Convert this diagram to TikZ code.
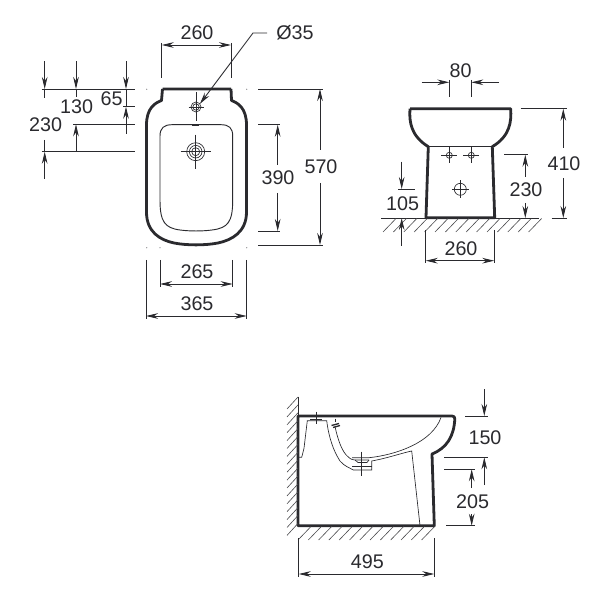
\documentclass[tikz,border=0pt]{standalone}
\usepackage{fontspec}
\setmainfont{Liberation Sans}
\usetikzlibrary{arrows.meta}
\definecolor{ink}{HTML}{2A2A2E}
\tikzset{
 x=0.75pt,y=-0.75pt,
 every path/.style={color=ink,line width=0.65pt},
 thick outline/.style={line width=2.1pt,line join=round},
 mid outline/.style={line width=0.7pt},
 dimarrow/.style={-{Stealth[length=9pt,width=4.2pt]}},
 dimboth/.style={{Stealth[length=9pt,width=4.2pt]}-{Stealth[length=9pt,width=4.2pt]}},
 dimtext/.style={font=\fontsize{14.8pt}{16pt}\selectfont,text=ink,inner sep=1pt},
 hatchline/.style={line width=0.45pt,color=ink!85},
 fine/.style={line width=0.5pt},
}
\newcommand{\crosshole}[5]{%
 \draw[fine] (#1-#4,#2)--(#1+#4,#2) (#1,#2-#5)--(#1,#2+#5);
 \draw[fine] (#1,#2) circle[radius=#3];
}
\begin{document}
\begin{tikzpicture}
\path[use as bounding box] (0,0) rectangle (601,592);
% ---- top view
\draw[thick outline] (162.5,89) -- (231,89) (231,89) -- (231.5,100.5) .. controls (238,103) and (246.5,108) .. (246.5,125)
 -- (246.5,212) .. controls (246.5,232) and (232,240) .. (218,243) .. controls (205,245.5) and (187,245.5) .. (174,243)
 .. controls (160,240) and (146.5,232) .. (146.5,212) -- (146.5,125) .. controls (146.5,108) and (155,103) .. (161.5,100.5) -- (162.5,89);
\draw[mid outline] (172,124.7) -- (221,124.7) .. controls (229,124.7) and (232.7,128) .. (232.7,136) -- (232.7,200)
 .. controls (232.7,222) and (228,228) .. (212,230) .. controls (202,231.3) and (190,231.3) .. (180,230)
 .. controls (165,228) and (160,222) .. (160,200) -- (160,136) .. controls (160,128) and (164,124.7) .. (172,124.7);
\draw[line width=1.4pt] (192,124.9) -- (199,124.9);
\crosshole{196}{107}{5}{7.5}{14.5}
\draw[fine] (196,107) circle[radius=3.2];
\crosshole{195.7}{151.7}{9}{15}{17}
\draw[fine] (195.7,151.7) circle[radius=6.3] (195.7,151.7) circle[radius=4];
\foreach \p in {(146.7,89.3),(246.7,89.3),(146.7,247.7),(160,247.7),(246.7,247.7)} {\fill[ink!60] \p circle[radius=0.6];}
% dimensions top view
\coordinate (d260a) at (161.7,45); \coordinate (d260b) at (231,45);
\draw (161.7,43) -- (161.7,78) (231,43) -- (231,78);
\draw[dimboth] (d260a) -- (d260b);
\node[dimtext] (t260) at (197,33) {260};
\node[dimtext] (tphi) at (295,33) {Ø35};
\coordinate (holeTip) at (199.8,104);
\coordinate (bend) at (253,33);
\coordinate (leadEnd) at (267,33);
\draw[-{Stealth[length=9pt,width=4.2pt]}] (leadEnd) -- (bend) -- (holeTip);
% left stack
\draw (41.7,89) -- (135,89) (41.7,151.7) -- (135,151.7) (73,124.3) -- (135,124.3) (123,106.7) -- (135,106.7);
\draw[dimarrow] (44.7,61.5) -- (44.7,89);
\draw[dimarrow] (76,61.5) -- (76,89);
\draw[dimarrow] (126,61.5) -- (126,89);
\draw[dimarrow] (126,134) -- (126,106.7);
\draw[dimarrow] (76,151.7) -- (76,124.3);
\draw[dimarrow] (44.7,179) -- (44.7,151.7);
\draw (44.7,89) -- (44.7,98) (44.7,140) -- (44.7,151.7) (76,89) -- (76,97) (126,89) -- (126,106.7);
\node[dimtext] (t65) at (111.7,98.3) {65};
\node[dimtext] (t130) at (76.7,106.7) {130};
\node[dimtext] (t230) at (45.7,125) {230};
% right stack
\draw (258,89) -- (323,89) (258,245) -- (323,245) (258,124.7) -- (280,124.7) (258,231) -- (280,231);
\draw[dimarrow] (320,150) -- (320,89);
\draw[dimarrow] (320,183) -- (320,245);
\draw[dimarrow] (277.7,165) -- (277.7,124.7);
\draw[dimarrow] (277.7,193) -- (277.7,231);
\node[dimtext] (t570) at (321,167) {570};
\node[dimtext] (t390) at (278,178) {390};
% under
\draw (160,260) -- (160,287) (232.7,260) -- (232.7,287) (146,260) -- (146,319) (246.7,260) -- (246.7,319);
\draw[dimboth] (160,284) -- (232.7,284);
\draw[dimboth] (146,316) -- (246.7,316);
\node[dimtext] (t265) at (197,271.5) {265};
\node[dimtext] (t365) at (197,304) {365};
% ---- front view
\draw[thick outline] (410,108.7) -- (510.7,108.7) .. controls (511.5,122) and (510,136) .. (492.3,146.7) -- (494.7,217.7) -- (426,217.7)
 -- (428.3,146.7) .. controls (411,136) and (409,122) .. (410,108.7);
\draw (428.3,146.7) -- (492.3,146.7);
\crosshole{449.3}{155.3}{3}{8}{8}
\crosshole{471.3}{155.3}{3}{8}{8}
\crosshole{460.3}{189.3}{6}{8.5}{9}
\draw (381,218) -- (539,218);
\foreach \i in {0,...,14} {\draw[hatchline] ({383+\i*10.4},232) -- ({396+\i*10.4},218.5);}
\draw (449.3,80) -- (449.3,96.7) (471.3,80) -- (471.3,96.7);
\draw[dimarrow] (421.7,82.3) -- (449.3,82.3);
\draw[dimarrow] (499,82.3) -- (471.3,82.3);
\node[dimtext] (t80) at (460.7,70.7) {80};
\draw (520.7,108.7) -- (566.7,108.7) (551.7,218) -- (566.7,218);
\draw[dimarrow] (563.3,148) -- (563.3,108.7);
\draw[dimarrow] (563.3,178) -- (563.3,218);
\node[dimtext] (t410) at (564,163.3) {410};
\draw (504,154.7) -- (528,154.7);
\draw[dimarrow] (525.3,177) -- (525.3,154.7);
\draw[dimarrow] (525.3,203) -- (525.3,218);
\node[dimtext] (t230b) at (526,190) {230};
\draw (398,189) -- (415,189);
\draw[dimarrow] (401.7,161.7) -- (401.7,189);
\draw[dimarrow] (401.7,246) -- (401.7,218);
\node[dimtext] (t105) at (402.7,204) {105};
\draw (425.7,230) -- (425.7,263) (494.3,230) -- (494.3,263);
\draw[dimboth] (425.7,260.7) -- (494.3,260.7);
\node[dimtext] (t260b) at (461,248.7) {260};
% ---- side view
\draw[thick outline] (298,416) -- (452,416) .. controls (454,416) and (455,417) .. (454.8,419) .. controls (454,436) and (447,448) .. (432,454) -- (434.3,525.7) -- (298,525.7) -- cycle;
\draw (298.7,396.7) -- (298.7,416);
\foreach \i in {0,...,16} {\draw[hatchline] (287,{409+\i*7.9}) -- (298,{397+\i*7.9});}
\foreach \i in {0,...,12} {\draw[hatchline] ({298+\i*10.3},540) -- ({311+\i*10.3},526.5);}
% inner
\draw[fine] (298,457.3) -- (301.7,457.3) -- (304,448.3) -- (307.3,420.7) -- (326.7,420.7) .. controls (328,431) and (331,447) .. (340,461) .. controls (344,466) and (350,468) .. (353.3,470) -- (371.7,470) -- (371.7,461)
  .. controls (388,458) and (402,453) .. (411.7,451) -- (420,525.5);
\draw[fine] (335,426.7) .. controls (338,440) and (342,452) .. (348.3,457) .. controls (351,459.5) and (353,460) .. (355,460) -- (369,460) (369,457.7)
  .. controls (395,455) and (432,443) .. (441,417.5);
\draw[fine] (355,460) -- (358,462.5) -- (367,462.5) -- (369,460) (352,457.7) -- (369,457.7);
\draw[line width=1pt] (331.5,425.5) -- (339,423.5) (333,427.5) -- (340,425.5);
\draw[fine] (335,418.5) -- (335,422) (335,426) -- (335,427);
\draw (316,411.7) -- (316,424.3) (310,419.5) -- (322,419.5);
\draw (361.7,451.7) -- (361.7,475.7) (352,466.5) -- (371.7,466.5);
% dims
\draw (465,416) -- (487.7,416) (444,457.3) -- (487.7,457.3) (444,469.3) -- (475,469.3) (446,525.7) -- (475,525.7);
\draw[dimarrow] (484.3,389) -- (484.3,416);
\draw[dimarrow] (484.3,485) -- (484.3,457.3);
\draw[dimarrow] (471.7,488) -- (471.7,469.3);
\draw[dimarrow] (471.7,514) -- (471.7,525.7);
\node[dimtext] (t150) at (485,437.3) {150};
\node[dimtext] (t205) at (472.7,501.7) {205};
\draw (298.7,538) -- (298.7,577) (434.3,538) -- (434.3,577);
\draw[dimboth] (298.7,574) -- (434.3,574);
\node[dimtext] (t495) at (367.3,561.7) {495};
\end{tikzpicture}
\end{document}
